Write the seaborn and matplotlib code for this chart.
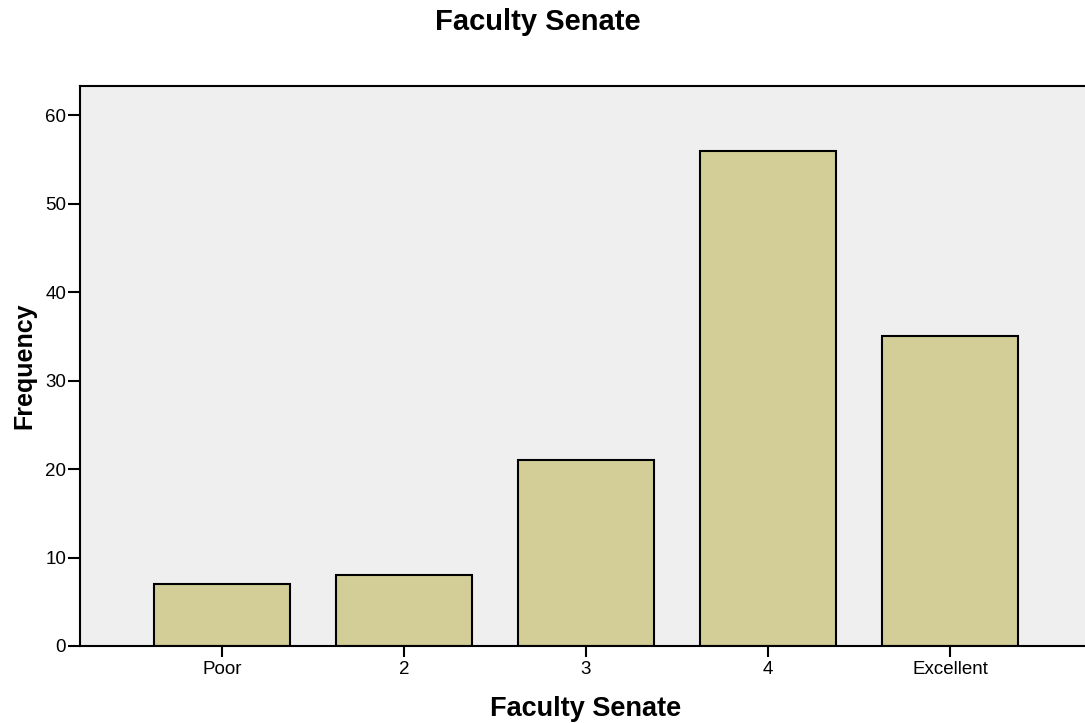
import matplotlib
matplotlib.use("Agg")
import matplotlib.pyplot as plt
import seaborn as sns
import pandas as pd

categories = ["Poor", "2", "3", "4", "Excellent"]
frequencies = [7, 8, 21, 56, 35]
yticks = [0, 10, 20, 30, 40, 50, 60]

sns.set_theme(style="white")
plt.rcParams['font.family'] = ['Liberation Sans', 'DejaVu Sans']
plt.rcParams['text.color'] = 'black'
plt.rcParams['axes.labelcolor'] = 'black'

df = pd.DataFrame({"cat": categories, "freq": frequencies})

fig = plt.figure(figsize=(10.85, 7.23), dpi=100)
ax = fig.add_axes([80 / 1085, (723 - 646) / 723, (1092 - 80) / 1085, (646 - 86) / 723])
ax.set_facecolor("#EFEFEF")

sns.barplot(data=df, x="cat", y="freq", order=categories, color="#D3CE98",
            saturation=1, width=0.75, edgecolor="black", linewidth=1.5, ax=ax)

ax.set_xlim(-0.78, 4.78)
ax.set_ylim(0, 63.3)
ax.set_yticks(yticks)
ax.set_yticklabels([str(v) for v in yticks])

for s in ax.spines.values():
    s.set_color("black")
    s.set_linewidth(1.5)

ax.tick_params(axis="y", which="both", left=True, length=9, width=1.5, pad=1,
               labelsize=13.5, colors="black")
ax.tick_params(axis="x", which="both", bottom=True, length=8, width=1.5, pad=3,
               labelsize=13.5, colors="black")

ax.set_xlabel("Faculty Senate", fontsize=19.5, fontweight="bold", labelpad=13,
              color="black")
ax.set_ylabel("Frequency", fontsize=18, fontweight="bold", labelpad=6,
              color="black")
fig.text(538 / 1085, 1 - 22 / 723, "Faculty Senate", ha="center", va="center",
         fontsize=21, fontweight="bold", color="black")

fig.savefig("out.png", dpi=100)
